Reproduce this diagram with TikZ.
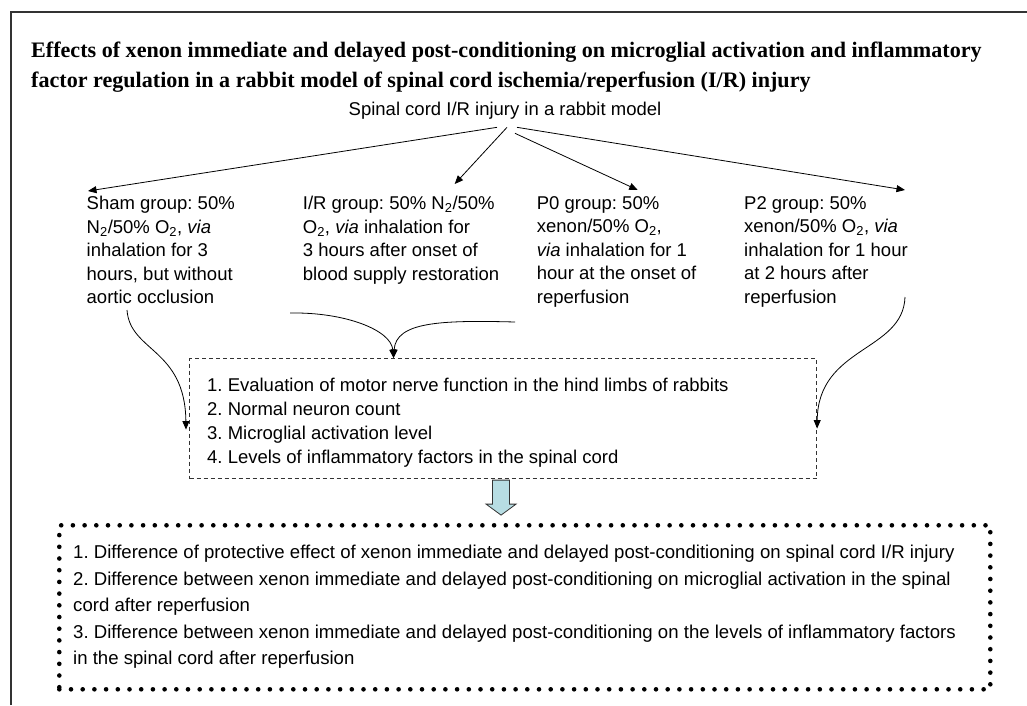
\documentclass[tikz,border=0pt]{standalone}
\usepackage{fontspec}
\setmainfont{Liberation Sans}
\newfontfamily\titlefont{Liberation Serif}
\usetikzlibrary{arrows.meta,calc}
\newcommand{\mysub}[1]{\textsubscript{#1}}
\definecolor{framecol}{HTML}{333333}
\definecolor{blockfill}{HTML}{B7DDE3}
\frenchspacing
\begin{document}
\begin{tikzpicture}[x=1pt,y=-1pt,
  grp/.style={anchor=north west, inner sep=0pt, align=left, font=\fontsize{18.5}{23.5}\selectfont},
  arr/.style={-{Triangle[length=8.5pt,width=7pt]}, line width=0.8pt},
  dashbox/.style={draw=framecol, line width=1.1pt, dash pattern=on 4pt off 3pt, anchor=north west, inner sep=0pt},
  dotbox/.style={draw=black, line width=4.6pt, dash pattern=on 0pt off 11.7pt, line cap=round, anchor=north west, inner sep=0pt}]
\useasboundingbox (0,0) rectangle (1027,705);
\draw[framecol, line width=1.3pt] (11,705) -- (11,12) -- (1027,12);

\node[anchor=north west, inner sep=0pt, align=left, font=\titlefont\bfseries\fontsize{22.1}{30}\selectfont] (title) at (31,41.5)
  {Effects of xenon immediate and delayed post-conditioning on microglial activation and inflammatory\\factor regulation in a rabbit model of spinal cord ischemia/reperfusion (I/R) injury};

\node[inner sep=0pt, font=\fontsize{18.5}{23.5}\selectfont] (root) at (505,110.5) {Spinal cord I/R injury in a rabbit model};

\node[grp] (sham) at (86.5,196) {Sham group: 50\%\\N\mysub{2}/50\% O\mysub{2}, \textit{via}\\inhalation for 3\\hours, but without\\aortic occlusion};
\node[grp] (ir) at (302.7,196) {I/R group: 50\% N\mysub{2}/50\%\\O\mysub{2}, \textit{via} inhalation for\\3 hours after onset of\\blood supply restoration};
\node[grp] (p0) at (536.7,196) {P0 group: 50\%\\xenon/50\% O\mysub{2},\\\textit{via} inhalation for 1\\hour at the onset of\\reperfusion};
\node[grp] (p2) at (744,196) {P2 group: 50\%\\xenon/50\% O\mysub{2}, \textit{via}\\inhalation for 1 hour\\at 2 hours after\\reperfusion};

\draw[arr] ([xshift=-8pt,yshift=-8pt]root.south) -- ([xshift=1.5pt,yshift=5pt]sham.north west);
\draw[arr] ([xshift=2pt,yshift=-8pt]root.south) -- ([xshift=152pt,yshift=12pt]ir.north west);
\draw[arr] ([xshift=10pt,yshift=-14pt]root.south) -- ([xshift=101pt,yshift=6pt]p0.north west);
\draw[arr] ([xshift=12pt,yshift=-8pt]root.south) -- ([xshift=161pt,yshift=6pt]p2.north west);

\node[dashbox, minimum width=627pt, minimum height=120pt] (box) at (189,358) {};
\node[grp, font=\fontsize{18.5}{24}\selectfont] (evals) at (207,378) {1. Evaluation of motor nerve function in the hind limbs of rabbits\\2. Normal neuron count\\3. Microglial activation level\\4. Levels of inflammatory factors in the spinal cord};

\coordinate (shamout) at (127,310);
\coordinate (irout) at (290,313);
\coordinate (p0out) at (515,322);
\coordinate (p2out) at (905,297);
\draw[arr] (shamout) .. controls (130,352) and (185,348) .. ([xshift=-3pt,yshift=-11pt]box.west);
\draw[arr] (irout) .. controls (345,312) and (391,330) .. ([xshift=-109.5pt]box.north);
\draw[arr] (p0out) .. controls (440,320) and (396,322) .. ([xshift=-109.5pt]box.north);
\draw[arr] (p2out) .. controls (903,352) and (818,346) .. ([xshift=0pt,yshift=-10pt]box.east);

\node[dotbox, minimum width=931pt, minimum height=164pt] (res) at (57,523) {};
\node[grp, font=\fontsize{18.6}{26.5}\selectfont] (results) at (73,545) {1. Difference of protective effect of xenon immediate and delayed post-conditioning on spinal cord I/R injury\\2. Difference between xenon immediate and delayed post-conditioning on microglial activation in the spinal\\cord after reperfusion\\3. Difference between xenon immediate and delayed post-conditioning on the levels of inflammatory factors\\in the spinal cord after reperfusion};

\draw[draw=framecol, fill=blockfill, line width=0.8pt, line join=miter]
  ($(box.south)+(-10.5,1)$) -- ($(box.south)+(6.5,1)$) -- ($(box.south)+(6.5,25)$) -- ($(box.south)+(13,25)$)
  -- ($(box.south)+(-2,36)$) -- ($(box.south)+(-17,25)$) -- ($(box.south)+(-10.5,25)$) -- cycle;
\end{tikzpicture}
\end{document}
